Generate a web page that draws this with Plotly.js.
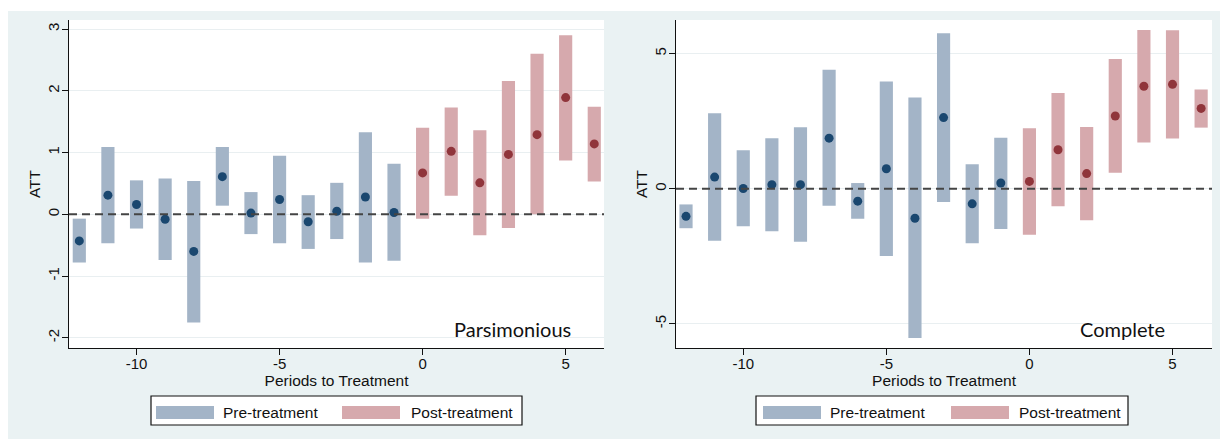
<!DOCTYPE html>
<html>
<head>
<meta charset="utf-8">
<script src="https://cdn.plot.ly/plotly-3.0.1.min.js"></script>
<style>html,body{margin:0;padding:0;background:#fff;}#chart{width:1220px;height:439px;}</style>
</head>
<body>
<div id="chart"></div>
<script>
// ---- data ----
const periods = [-12,-11,-10,-9,-8,-7,-6,-5,-4,-3,-2,-1,0,1,2,3,4,5,6];

// Parsimonious model
const parsEst = [-0.43, 0.31, 0.16, -0.08, -0.60, 0.61, 0.02, 0.24, -0.12, 0.05, 0.28, 0.03, 0.67, 1.02, 0.51, 0.97, 1.29, 1.89, 1.14];
const parsLo  = [-0.78, -0.47, -0.23, -0.74, -1.75, 0.14, -0.32, -0.47, -0.56, -0.40, -0.78, -0.75, -0.07, 0.30, -0.34, -0.22, 0.00, 0.87, 0.53];
const parsHi  = [-0.07, 1.09, 0.55, 0.58, 0.54, 1.09, 0.36, 0.95, 0.31, 0.51, 1.33, 0.82, 1.40, 1.73, 1.36, 2.16, 2.60, 2.90, 1.74];

// Complete model
const compEst = [-1.02, 0.43, 0.01, 0.15, 0.15, 1.87, -0.46, 0.74, -1.09, 2.63, -0.56, 0.21, 0.27, 1.44, 0.56, 2.69, 3.79, 3.86, 2.97];
const compLo  = [-1.46, -1.92, -1.39, -1.57, -1.96, -0.63, -1.11, -2.49, -5.52, -0.49, -2.02, -1.49, -1.70, -0.65, -1.17, 0.59, 1.71, 1.86, 2.26];
const compHi  = [-0.58, 2.79, 1.42, 1.87, 2.27, 4.40, 0.21, 3.97, 3.37, 5.75, 0.91, 1.89, 2.24, 3.54, 2.28, 4.80, 5.87, 5.86, 3.67];

const groupNames = ["Pre-treatment", "Post-treatment"];
const panelLabels = ["Parsimonious", "Complete"];
const xTitle = "Periods to Treatment";
const yTitle = "ATT";

// ---- styles ----
const W = 1220, H = 439;
const BG = "#eaf2f3";
const barColor = {pre: "#a3b4c7", post: "#d6a9ad"};
const dotColor = {pre: "#1a476f", post: "#90353b"};
const FONT = "Liberation Sans, Arial, sans-serif";
const px = v => v / W;
const py = v => 1 - v / H;

function pick(arr, pre) { return arr.filter((_, i) => pre ? periods[i] < 0 : periods[i] >= 0); }

function panelTraces(lo, hi, est, xa, ya) {
  const out = [];
  [true, false].forEach(pre => {
    const key = pre ? "pre" : "post";
    const x = pick(periods, pre), l = pick(lo, pre), h = pick(hi, pre), e = pick(est, pre);
    out.push({
      type: "bar", x: x, base: l, y: h.map((v, i) => v - l[i]), width: 0.46,
      marker: {color: barColor[key], line: {width: 0}},
      name: pre ? groupNames[0] : groupNames[1], xaxis: xa, yaxis: ya,
      hovertemplate: "%{x}: [%{base:.2f}, " + "%{customdata:.2f}]<extra></extra>", customdata: h
    });
    out.push({
      type: "scatter", mode: "markers", x: x, y: e,
      marker: {color: dotColor[key], size: 9},
      xaxis: xa, yaxis: ya, showlegend: false,
      hovertemplate: "%{x}: %{y:.2f}<extra></extra>"
    });
  });
  return out;
}

const data = [
  ...panelTraces(parsLo, parsHi, parsEst, "x", "y"),
  ...panelTraces(compLo, compHi, compEst, "x2", "y2")
];

const yDom = [py(348), py(20)];
function xAxis(dom, range, anchor) {
  return {
    domain: dom, range: range, anchor: anchor, tickvals: [-10, -5, 0, 5], ticktext: ["-10", "-5", "0", "5"],
    ticks: "outside", ticklen: 6, tickcolor: "#111", tickwidth: 1, ticklabelstandoff: -4,
    showline: true, linecolor: "#111", linewidth: 1.2, showgrid: false, zeroline: false,
    tickfont: {family: FONT, size: 15, color: "#111"},
    title: {text: xTitle, font: {family: FONT, size: 15.5, color: "#111"}, standoff: 2},
    fixedrange: true
  };
}
function yAxis(range, tickvals, anchor) {
  return {
    domain: yDom, range: range, anchor: anchor, tickvals: tickvals, ticktext: tickvals.map(String),
    tickangle: -90, ticks: "outside", ticklen: 6, tickcolor: "#111", tickwidth: 1, ticklabelstandoff: -3,
    showline: true, linecolor: "#111", linewidth: 1.2, showgrid: true, gridcolor: "#e9eff1", gridwidth: 1,
    zeroline: false, tickfont: {family: FONT, size: 15, color: "#111"},
    title: {text: yTitle, font: {family: FONT, size: 15.5, color: "#111"}, standoff: 0},
    fixedrange: true
  };
}

const shapes = [
  // white strips of the page outside the graph backgrounds
  {type: "rect", xref: "paper", yref: "paper", x0: 0, x1: 1, y0: py(11), y1: 1, fillcolor: "#ffffff", line: {width: 0}, layer: "below"},
  {type: "rect", xref: "paper", yref: "paper", x0: 0, x1: px(8), y0: 0, y1: 1, fillcolor: "#ffffff", line: {width: 0}, layer: "below"},
  // dashed reference line at zero
  {type: "line", xref: "x domain", yref: "y", x0: 0, x1: 1, y0: 0, y1: 0, line: {color: "#444", width: 2, dash: "8px,5px"}, layer: "above"},
  {type: "line", xref: "x2 domain", yref: "y2", x0: 0, x1: 1, y0: 0, y1: 0, line: {color: "#444", width: 2, dash: "8px,5px"}, layer: "above"}
];

const annotations = [
  {xref: "paper", yref: "paper", x: px(573), y: py(329), xanchor: "right", yanchor: "middle", showarrow: false,
   text: panelLabels[0], font: {family: "Lato, Carlito, sans-serif", size: 20, color: "#111"}},
  {xref: "paper", yref: "paper", x: px(1167), y: py(329), xanchor: "right", yanchor: "middle", showarrow: false,
   text: panelLabels[1], font: {family: "Lato, Carlito, sans-serif", size: 20, color: "#111"}}
];

// manual legends (wide swatches like the original)
function legendBox(x0, x1, sw1, t1, sw2, t2) {
  shapes.push({type: "rect", xref: "paper", yref: "paper", x0: px(x0), x1: px(x1), y0: py(425), y1: py(396), fillcolor: "#fff", line: {color: "#111", width: 1.2}});
  shapes.push({type: "rect", xref: "paper", yref: "paper", x0: px(sw1), x1: px(sw1 + 58), y0: py(419), y1: py(406), fillcolor: barColor.pre, line: {width: 0}});
  shapes.push({type: "rect", xref: "paper", yref: "paper", x0: px(sw2), x1: px(sw2 + 58), y0: py(419), y1: py(406), fillcolor: barColor.post, line: {width: 0}});
  annotations.push({xref: "paper", yref: "paper", x: px(t1), y: py(412.5), xanchor: "left", yanchor: "middle", showarrow: false, text: groupNames[0], font: {family: FONT, size: 15.5, color: "#111"}});
  annotations.push({xref: "paper", yref: "paper", x: px(t2), y: py(412.5), xanchor: "left", yanchor: "middle", showarrow: false, text: groupNames[1], font: {family: FONT, size: 15.5, color: "#111"}});
}
legendBox(151, 522, 156, 221, 342, 409);
legendBox(756, 1128, 763, 828, 951, 1017);

const layout = {
  width: W, height: H, margin: {l: 0, r: 0, t: 0, b: 0},
  paper_bgcolor: BG, plot_bgcolor: "#ffffff", showlegend: false, barmode: "overlay",
  xaxis: xAxis([px(69), px(604)], [-12.36, 6.34], "y"),
  yaxis: yAxis([-2.164, 3.146], [-2, -1, 0, 1, 2, 3], "x"),
  xaxis2: xAxis([px(676), px(1212)], [-12.35, 6.38], "y2"),
  yaxis2: yAxis([-5.89, 6.24], [-5, 0, 5], "x2"),
  shapes: shapes, annotations: annotations
};

Plotly.newPlot("chart", data, layout, {displayModeBar: false, staticPlot: true});
</script>
</body>
</html>
